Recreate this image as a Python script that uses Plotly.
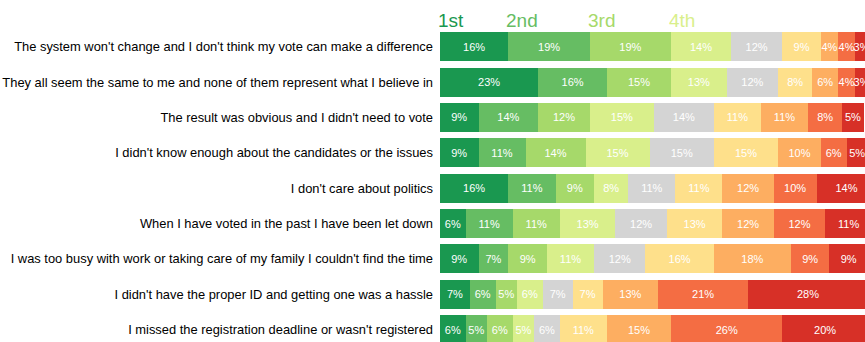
import plotly.graph_objects as go

# Reasons for not voting, ranked 1st (most important) to 9th
reasons = [
    "The system won't change and I don't think my vote can make a difference",
    "They all seem the same to me and none of them represent what I believe in",
    "The result was obvious and I didn't need to vote",
    "I didn't know enough about the candidates or the issues",
    "I don't care about politics",
    "When I have voted in the past I have been let down",
    "I was too busy with work or taking care of my family I couldn't find the time",
    "I didn't have the proper ID and getting one was a hassle",
    "I missed the registration deadline or wasn't registered",
]

rank_names = ["1st", "2nd", "3rd", "4th", "5th", "6th", "7th", "8th", "9th"]

rank1 = [16, 23, 9, 9, 16, 6, 9, 7, 6]
rank2 = [19, 16, 14, 11, 11, 11, 7, 6, 5]
rank3 = [19, 15, 12, 14, 9, 11, 9, 5, 6]
rank4 = [14, 13, 15, 15, 8, 13, 11, 6, 5]
rank5 = [12, 12, 14, 15, 11, 12, 12, 7, 6]
rank6 = [9, 8, 11, 15, 11, 13, 16, 7, 11]
rank7 = [4, 6, 11, 10, 12, 12, 18, 13, 15]
rank8 = [4, 4, 8, 6, 10, 12, 9, 21, 26]
rank9 = [3, 3, 5, 5, 14, 11, 9, 28, 20]

ranks = [rank1, rank2, rank3, rank4, rank5, rank6, rank7, rank8, rank9]

colors = ["#1a9850", "#66bd63", "#a6d96a", "#d9ef8b", "#d4d4d4",
          "#fee08b", "#fdae61", "#f46d43", "#d73027"]

FONT = "Liberation Sans, Arial, sans-serif"

fig = go.Figure()
for name, vals, col in zip(rank_names, ranks, colors):
    fig.add_trace(go.Bar(
        y=reasons,
        x=vals,
        name=name,
        orientation="h",
        marker=dict(color=col, line=dict(width=0)),
        text=[f"{v}%" for v in vals],
        textposition="inside",
        insidetextanchor="middle",
        textangle=0,
        constraintext="none",
        textfont=dict(family=FONT, size=11, color="white"),
        showlegend=False,
    ))

# Rank labels above the first bar, each at the start of its segment
first_row = [r[0] for r in ranks]
starts = [sum(first_row[:i]) for i in range(len(first_row))]
for i in range(4):
    fig.add_annotation(
        x=starts[i], xref="x", xanchor="left", xshift=-4,
        y=1, yref="paper", yanchor="bottom", yshift=-4,
        text=rank_names[i], showarrow=False,
        font=dict(family=FONT, size=19, color=colors[i]),
    )

fig.update_layout(
    barmode="stack",
    bargap=0.18,
    width=865, height=342,
    margin=dict(l=440, r=0, t=29, b=0),
    paper_bgcolor="white",
    plot_bgcolor="white",
    uniformtext=dict(minsize=11, mode="show"),
    font=dict(family=FONT, color="black"),
)
fig.update_xaxes(range=[0, 99.3], visible=False, showgrid=False, zeroline=False)
fig.update_yaxes(
    categoryorder="array", categoryarray=reasons,
    range=[8.35, -0.5],
    automargin=False,
    showgrid=False, zeroline=False, showline=False, ticks="",
    ticklabelstandoff=6,
    tickfont=dict(family=FONT, size=12.9, color="black"),
)

fig.write_html("out.html")
